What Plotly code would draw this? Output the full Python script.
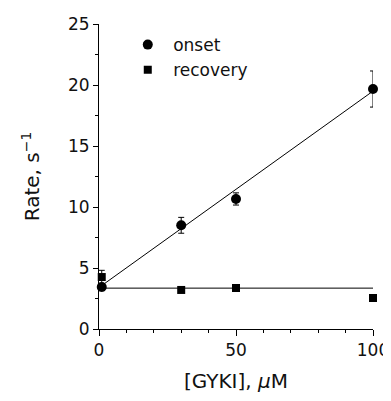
import plotly.graph_objects as go

conc = [1, 30, 50, 100]
onset = [3.44, 8.5, 10.66, 19.67]
onset_err = [0.3, 0.65, 0.5, 1.48]
recovery = [4.26, 3.2, 3.36, 2.54]
recovery_err = [0.55, 0.15, 0.15, 0.15]

fit_x = [0, 100]
onset_fit = [3.4, 19.5]
recovery_fit = [3.35, 3.35]

x_ticks = [0, 50, 100]
y_ticks = [0, 5, 10, 15, 20, 25]

FONT = "DejaVu Sans, sans-serif"

fig = go.Figure()
fig.add_trace(go.Scatter(x=fit_x, y=onset_fit, mode="lines",
                         line=dict(color="black", width=1), showlegend=False, hoverinfo="skip"))
fig.add_trace(go.Scatter(x=fit_x, y=recovery_fit, mode="lines",
                         line=dict(color="black", width=1), showlegend=False, hoverinfo="skip"))
fig.add_trace(go.Scatter(x=conc, y=onset, mode="markers", name="\u00a0onset",
                         marker=dict(symbol="circle", size=10, color="black"),
                         error_y=dict(type="data", array=onset_err, color="black", thickness=1, width=3),
                         cliponaxis=False))
fig.add_trace(go.Scatter(x=conc, y=recovery, mode="markers", name="\u00a0recovery",
                         marker=dict(symbol="square", size=8, color="black"),
                         error_y=dict(type="data", array=recovery_err, color="black", thickness=1, width=3),
                         cliponaxis=False))

fig.update_layout(
    width=383, height=393,
    margin=dict(l=91, r=18, t=16, b=72),
    paper_bgcolor="white", plot_bgcolor="white",
    font=dict(family=FONT, size=17, color="#111"),
    legend=dict(x=0.105, y=0.99, xanchor="left", yanchor="top",
                bgcolor="rgba(0,0,0,0)", font=dict(size=17), tracegroupgap=0),
    showlegend=True,
)
fig.update_xaxes(range=[0, 100], tickvals=x_ticks, showgrid=False, zeroline=False,
                 showline=True, linecolor="black", linewidth=1, automargin=False,
                 ticks="outside", ticklen=6, tickcolor="black",
                 minor=dict(dtick=10, ticks="outside", ticklen=3, tickcolor="black"),
                 title=dict(text="[GYKI], <i>μ</i>M", standoff=14))
fig.update_yaxes(range=[0, 25], tickvals=y_ticks, showgrid=False, zeroline=False,
                 showline=True, linecolor="black", linewidth=1, automargin=False,
                 ticks="outside", ticklen=5, tickcolor="black",
                 minor=dict(dtick=2.5, ticks="outside", ticklen=3, tickcolor="black"),
                 title=dict(text="Rate, s<sup>−1</sup>", standoff=22))

fig.write_html("out.html")
